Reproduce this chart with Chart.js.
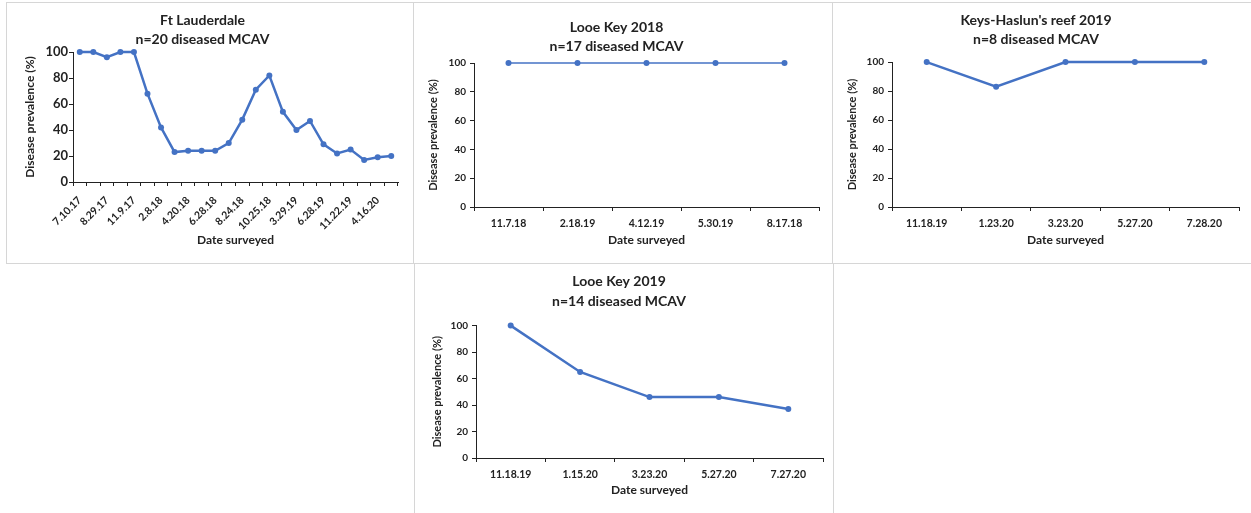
<!DOCTYPE html>
<html>
<head>
<meta charset="utf-8">
<script src="https://cdn.jsdelivr.net/npm/chart.js@4"></script>
<style>
  body { margin: 0; background: #fff; width: 1251px; height: 513px; overflow: hidden; position: relative; }
  .panel { position: absolute; box-sizing: border-box; border: 1px solid #d6d6d6; }
  .panel canvas { position: absolute; left: 0; top: 0; }
</style>
</head>
<body>
<div class="panel" style="left:6px;top:2px;width:408px;height:262px"><canvas id="c1" width="406" height="260"></canvas></div>
<div class="panel" style="left:413px;top:2px;width:420px;height:262px"><canvas id="c2" width="418" height="260"></canvas></div>
<div class="panel" style="left:832px;top:2px;width:425px;height:262px"><canvas id="c3" width="423" height="260"></canvas></div>
<div class="panel" style="left:414px;top:263px;width:420px;height:260px"><canvas id="c4" width="418" height="258"></canvas></div>
<script>
// Ft Lauderdale - only every other date is printed on the axis, the rest are left blank
const ftLabels = ['7.10.17', '', '8.29.17', '', '11.9.17', '', '2.8.18', '', '4.20.18', '', '6.28.18', '',
                  '8.24.18', '', '10.25.18', '', '3.29.19', '', '6.28.19', '', '11.22.19', '', '4.16.20', ''];
const ftValues = [100, 100, 96, 100, 100, 68, 42, 23, 24, 24, 24, 30, 48, 71, 82, 54, 40, 47, 29, 22, 25, 17, 19, 20];

// Looe Key 2018
const lk18Labels = ['11.7.18', '2.18.19', '4.12.19', '5.30.19', '8.17.18'];
const lk18Values = [100, 100, 100, 100, 100];

// Keys-Haslun's reef 2019
const khLabels = ['11.18.19', '1.23.20', '3.23.20', '5.27.20', '7.28.20'];
const khValues = [100, 83, 100, 100, 100];

// Looe Key 2019
const lk19Labels = ['11.18.19', '1.15.20', '3.23.20', '5.27.20', '7.27.20'];
const lk19Values = [100, 65, 46, 46, 37];

const yTicks = [0, 20, 40, 60, 80, 100];

const BLUE = '#4472C4';
const INK = '#222222';
Chart.defaults.font.family = 'Lato, "Liberation Sans", sans-serif';
Chart.defaults.color = INK;
Chart.defaults.animation = false;

function makeChart(id, title, labels, values, o) {
    const ctx = document.getElementById(id).getContext('2d');
    return new Chart(ctx, {
        type: 'line',
        data: {
            labels: labels,
            datasets: [{
                data: values,
                borderColor: BLUE,
                backgroundColor: BLUE,
                borderWidth: o.lineWidth,
                pointRadius: 3,
                pointBorderWidth: 0,
                pointHoverRadius: 3,
                tension: 0,
                fill: false,
                clip: false
            }]
        },
        options: {
            responsive: false,
            layout: { padding: { left: 0, top: 0, right: o.padRight, bottom: o.padBottom } },
            plugins: {
                legend: { display: false },
                tooltip: { enabled: false },
                title: {
                    display: true,
                    text: title,
                    color: INK,
                    font: { size: 14, weight: 'bold', lineHeight: o.titleLH },
                    padding: { top: o.titleTop, bottom: o.titleBottom }
                }
            },
            scales: {
                x: {
                    type: 'category',
                    offset: true,
                    afterFit: s => { s.height = o.xHeight; },
                    grid: { display: true, drawOnChartArea: false, drawTicks: true, tickLength: 4, offset: true, color: INK },
                    border: { display: true, color: INK, width: 1 },
                    ticks: {
                        autoSkip: false,
                        minRotation: o.rot, maxRotation: o.rot,
                        padding: o.xTickPad,
                        color: INK,
                        font: { size: o.xTickSize, weight: 'bold' }
                    },
                    title: {
                        display: true,
                        text: 'Date surveyed',
                        color: INK,
                        font: { size: 12, weight: 'bold', lineHeight: 1.2 },
                        padding: { top: 0, bottom: o.xTitlePad }
                    }
                },
                y: {
                    min: 0, max: 100,
                    afterFit: s => { s.width = o.yWidth; },
                    afterBuildTicks: s => { s.ticks = yTicks.map(v => ({ value: v })); },
                    grid: { display: true, drawOnChartArea: false, drawTicks: true, tickLength: 4, color: INK },
                    border: { display: true, color: INK, width: 1 },
                    ticks: {
                        padding: o.yTickPad,
                        color: INK,
                        font: { size: o.yTickSize, weight: 'bold' }
                    },
                    title: {
                        display: true,
                        text: 'Disease prevalence (%)',
                        color: INK,
                        font: { size: o.yTitleSize, weight: 'bold', lineHeight: 1.2 },
                        padding: { top: o.yTitlePad, bottom: 0 }
                    }
                }
            }
        }
    });
}

makeChart('c1', ['Ft Lauderdale', 'n=20 diseased MCAV'], ftLabels, ftValues, {
    lineWidth: 2.5, padRight: 15, padBottom: 11, titleLH: 1.36, titleTop: 8, titleBottom: 3,
    xHeight: 70, rot: 45, xTickPad: 8, xTickSize: 10.5, xTitlePad: 5,
    yWidth: 66, yTickPad: 1, yTickSize: 13, yTitleSize: 12, yTitlePad: 16
});

makeChart('c2', ['Looe Key 2018', 'n=17 diseased MCAV'], lk18Labels, lk18Values, {
    lineWidth: 1.5, padRight: 13, padBottom: 11, titleLH: 1.36, titleTop: 15, titleBottom: 7,
    xHeight: 45, rot: 0, xTickPad: 6, xTickSize: 10.5, xTitlePad: 5,
    yWidth: 60, yTickPad: 4, yTickSize: 10, yTitleSize: 11, yTitlePad: 13
});

makeChart('c3', ["Keys-Haslun's reef 2019", 'n=8 diseased MCAV'], khLabels, khValues, {
    lineWidth: 2.5, padRight: 17, padBottom: 11, titleLH: 1.36, titleTop: 8, titleBottom: 13,
    xHeight: 45, rot: 0, xTickPad: 6, xTickSize: 10.5, xTitlePad: 5,
    yWidth: 59, yTickPad: 4, yTickSize: 10, yTitleSize: 11, yTitlePad: 13
});

makeChart('c4', ['Looe Key 2019', 'n=14 diseased MCAV'], lk19Labels, lk19Values, {
    lineWidth: 2.5, padRight: 10, padBottom: 22, titleLH: 1.45, titleTop: 7, titleBottom: 14,
    xHeight: 42, rot: 0, xTickPad: 6, xTickSize: 10.5, xTitlePad: 3,
    yWidth: 61, yTickPad: 4, yTickSize: 10, yTitleSize: 11, yTitlePad: 16
});
</script>
</body>
</html>
